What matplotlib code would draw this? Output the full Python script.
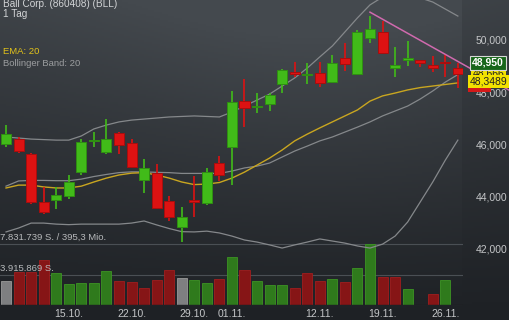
import numpy as np
import matplotlib
matplotlib.use('Agg')
import matplotlib.pyplot as plt
from matplotlib.colors import LinearSegmentedColormap

plt.rcParams['font.family'] = ['Liberation Sans', 'DejaVu Sans']

# --- data ---
dates = ['08.10.', '09.10.', '10.10.', '11.10.', '12.10.', '15.10.', '16.10.', '17.10.',
         '18.10.', '19.10.', '22.10.', '23.10.', '24.10.', '25.10.', '26.10.', '29.10.',
         '30.10.', '31.10.', '01.11.', '02.11.', '05.11.', '06.11.', '07.11.', '08.11.',
         '09.11.', '12.11.', '13.11.', '14.11.', '15.11.', '16.11.', '19.11.', '20.11.',
         '21.11.', '22.11.', '23.11.', '26.11.', '27.11.']
xlabels = ['15.10.', '22.10.', '29.10.', '01.11.', '12.11.', '19.11.', '26.11.']

opens = [46.00, 46.18, 45.60, 43.77, 43.85, 44.01, 44.93, 46.13, 45.70, 46.43,
         46.05, 44.62, 44.87, 43.82, 42.80, 43.85, 43.72, 45.26, 45.87, 47.65,
         47.41, 47.53, 48.30, 48.78, 48.66, 48.74, 48.37, 49.30, 48.69, 50.09,
         50.30, 48.91, 49.25, 49.23, 49.04, 49.14, 48.93]
highs = [46.73, 46.28, 45.67, 44.36, 44.36, 44.81, 46.18, 46.47, 46.95, 46.45,
         46.18, 45.42, 45.23, 44.00, 43.57, 44.77, 45.07, 45.54, 48.05, 48.49,
         47.95, 47.95, 48.88, 49.17, 49.10, 49.17, 49.42, 49.87, 50.38, 50.92,
         50.73, 49.74, 49.96, 49.25, 49.40, 49.42, 49.10]
lows = [45.87, 45.67, 43.68, 43.31, 43.49, 43.87, 44.81, 45.87, 45.62, 45.60,
        45.09, 44.10, 43.49, 43.05, 42.24, 43.18, 43.65, 44.58, 44.42, 46.64,
        47.20, 47.28, 47.95, 48.59, 48.31, 48.18, 48.33, 48.82, 48.65, 49.90,
        49.50, 48.59, 49.00, 48.97, 48.78, 48.57, 48.14]
closes = [46.37, 45.74, 43.78, 43.40, 44.04, 44.53, 46.09, 46.17, 46.18, 45.96,
          45.13, 45.07, 43.53, 43.20, 43.20, 43.77, 44.91, 44.79, 47.63, 47.37,
          47.45, 47.88, 48.85, 48.71, 48.69, 48.33, 49.10, 49.08, 50.30, 50.41,
          49.51, 49.04, 49.28, 49.13, 48.91, 49.12, 48.69]

# volume in million shares, nan = no bar
volume = [3.12, 4.24, 4.28, 5.78, 4.11, 2.70, 2.82, 2.82, 4.37, 3.08,
          2.95, 2.18, 3.21, 4.49, 3.47, 3.21, 2.82, 3.34, 6.16, 4.49,
          3.08, 2.57, 2.57, 2.18, 4.11, 3.08, 3.34, 2.95, 4.75, 7.83,
          3.60, 3.60, 2.05, 0.0, 1.41, 3.21, np.nan]
vol_max = 7.831739

bb_upper = [46.27, 46.23, 46.19, 46.17, 46.15, 46.15, 46.31, 46.58, 46.73, 46.85,
            46.92, 46.96, 47.00, 47.04, 47.06, 47.08, 47.06, 47.04, 47.23, 47.46,
            47.69, 47.92, 48.23, 48.54, 48.92, 49.35, 49.77, 50.31, 50.85, 51.35,
            51.65, 51.81, 51.77, 51.62, 51.46, 51.19, 50.92]
bb_mid = [44.38, 44.58, 44.60, 44.60, 44.59, 44.59, 44.65, 44.75, 44.83, 44.90,
          44.93, 44.93, 44.91, 44.90, 44.87, 44.87, 44.87, 44.87, 44.96, 45.08,
          45.15, 45.27, 45.50, 45.73, 45.92, 46.12, 46.27, 46.46, 46.65, 46.85,
          47.08, 47.27, 47.46, 47.73, 48.04, 48.38, 48.67]
bb_lower = [42.62, 42.77, 42.96, 42.96, 42.92, 42.90, 42.92, 42.92, 42.92, 42.92,
            42.96, 43.04, 42.89, 42.75, 42.63, 42.62, 42.65, 42.58, 42.46, 42.31,
            42.23, 42.12, 42.00, 42.12, 42.23, 42.35, 42.27, 42.19, 42.08, 42.00,
            42.15, 42.46, 43.00, 43.77, 44.54, 45.38, 46.15]
ema20 = [44.31, 44.42, 44.42, 44.35, 44.31, 44.31, 44.38, 44.54, 44.69, 44.81,
         44.88, 44.90, 44.81, 44.69, 44.54, 44.44, 44.46, 44.52, 44.69, 44.92,
         45.19, 45.46, 45.77, 46.12, 46.38, 46.62, 46.85, 47.08, 47.31, 47.65,
         47.85, 47.96, 48.08, 48.17, 48.23, 48.29, 48.35]

trend_x = [29, 40.2]
trend_y = [51.07, 48.04]

price_ticks = [42, 44, 46, 48, 50]

# --- figure ---
fig = plt.figure(figsize=(5.1, 3.2), dpi=100)

# background gradient
bg = fig.add_axes([0, 0, 1, 1], zorder=-10)
yy, xx = np.mgrid[0:1:160j, 0:1:255j]
glow = np.exp(-((xx - 0.62) ** 2) / 0.25) * 0.35
shade = (1 - yy) ** 1.2 * 0.8 + glow * (1 - yy)
shade[:, int(255 * 463 / 510):] *= 0.8
bgcmap = LinearSegmentedColormap.from_list('bg', ['#1e2125', '#44494e'])
bg.imshow(shade, cmap=bgcmap, aspect='auto', extent=[0, 1, 0, 1], vmin=0, vmax=1)
bg.axis('off')

ax = fig.add_axes([0, 15 / 320, 463 / 510, 305 / 320])
ax.set_facecolor('none')
vax = ax.twinx()
vax.set_zorder(ax.get_zorder() - 1)

x = np.arange(len(dates))
ax.set_xlim(-0.48, 36.41)
ax.set_ylim(39.81, 51.538)
vax.set_ylim(0, vol_max * 305 / 61)

# volume
closes_a = np.array(closes)
vcol = []
for i in range(len(x)):
    if i == 0 or abs(closes_a[i] - closes_a[i - 1]) < 0.005:
        vcol.append('#7e7f81')
    elif closes_a[i] > closes_a[i - 1]:
        vcol.append('#2f7a1c')
    else:
        vcol.append('#861516')
vedge = {'#7e7f81': '#9a9a9a', '#2f7a1c': '#3d9424', '#861516': '#a01e1e'}
vax.bar(x, volume, width=0.8, color=vcol, edgecolor=[vedge[c] for c in vcol], linewidth=0.6)
for lv in [vol_max, vol_max / 2]:
    vax.axhline(lv, color='#4a4f54', lw=0.8, zorder=0)
vax.axhline(0, color='#1a1c1f', lw=1.0)
vax.text(0.001, vol_max + 0.25, '7.831.739 S. / 395,3 Mio.', transform=vax.get_yaxis_transform(),
         color='#b8babc', fontsize=6.8, va='bottom', ha='left')
vax.text(0.001, vol_max / 2 + 0.25, '3.915.869 S.', transform=vax.get_yaxis_transform(),
         color='#b8babc', fontsize=6.8, va='bottom', ha='left')
vax.set_yticks([])

# bands and ema
ax.plot(x, bb_upper, color='#85888b', lw=0.9)
ax.plot(x, bb_mid, color='#85888b', lw=0.9)
ax.plot(x, bb_lower, color='#85888b', lw=0.9)
ax.plot(x, ema20, color='#c9a620', lw=1.0)

# candles
for i in range(len(x)):
    o, h, l, c = opens[i], highs[i], lows[i], closes[i]
    up = c >= o
    fc = '#41bb19' if up else '#dd1212'
    ec = '#2f8f12' if up else '#a80e0e'
    ax.vlines(x[i], l, h, color=fc, lw=1.2, zorder=3)
    body = max(abs(c - o), 0.04)
    ax.bar(x[i], body, bottom=min(o, c), width=0.8, color=fc, edgecolor=ec, linewidth=0.7, zorder=4)

# trendline
ax.plot(trend_x, trend_y, color='#d06aae', lw=1.1, zorder=6, clip_on=False)

# axes styling
for s in ax.spines.values():
    s.set_visible(False)
for s in vax.spines.values():
    s.set_visible(False)
ax.yaxis.tick_right()
ax.set_yticks(price_ticks)
ax.set_yticklabels(['{:,.3f}'.format(t).replace('.', ',') if False else '{:d},000'.format(t) for t in price_ticks])
ax.tick_params(axis='y', length=0, pad=9, labelsize=7.5, labelcolor='#c4c6c8')
ax.set_xticks([dates.index(d) for d in xlabels])
ax.set_xticklabels(xlabels)
ax.tick_params(axis='x', length=0, pad=3, labelsize=7.5, labelcolor='#c4c6c8')

# price boxes on right
tr = ax.get_yaxis_transform()
ax.text(1.015, 48.23, '       ', transform=tr, fontsize=7, va='center', ha='left',
        bbox=dict(boxstyle='square,pad=0.15', fc='#d41a1a', ec='none'), clip_on=False, zorder=7)
ax.text(1.02, 48.70, '48,666', transform=tr, fontsize=7.5, va='center', ha='left', color='#222222',
        bbox=dict(boxstyle='square,pad=0.15', fc='#f2e200', ec='none'), clip_on=False, zorder=7)
ax.text(1.015, 48.40, '48,3489', transform=tr, fontsize=7.5, va='center', ha='left', color='#222222',
        bbox=dict(boxstyle='square,pad=0.15', fc='#f2e200', ec='none'), clip_on=False, zorder=8)
ax.text(1.02, 49.12, '48,950', transform=tr, fontsize=7.5, va='center', ha='left', color='white',
        fontweight='bold', bbox=dict(boxstyle='square,pad=0.2', fc='#17661a', ec='#d8d8d8', lw=0.8),
        clip_on=False, zorder=9)

# header texts
fig.text(0.005, 1 - 4 / 320, 'Ball Corp. (860408) (BLL)', color='#d2d4d6', fontsize=7.2, va='center')
fig.text(0.005, 1 - 14 / 320, '1 Tag', color='#d2d4d6', fontsize=7.2, va='center')
fig.text(0.005, 1 - 51 / 320, 'EMA: 20', color='#e2c21a', fontsize=6.8, va='center')
fig.text(0.005, 1 - 63 / 320, 'Bollinger Band: 20', color='#9c9ea0', fontsize=6.8, va='center')

fig.savefig('out.png', dpi=100)
